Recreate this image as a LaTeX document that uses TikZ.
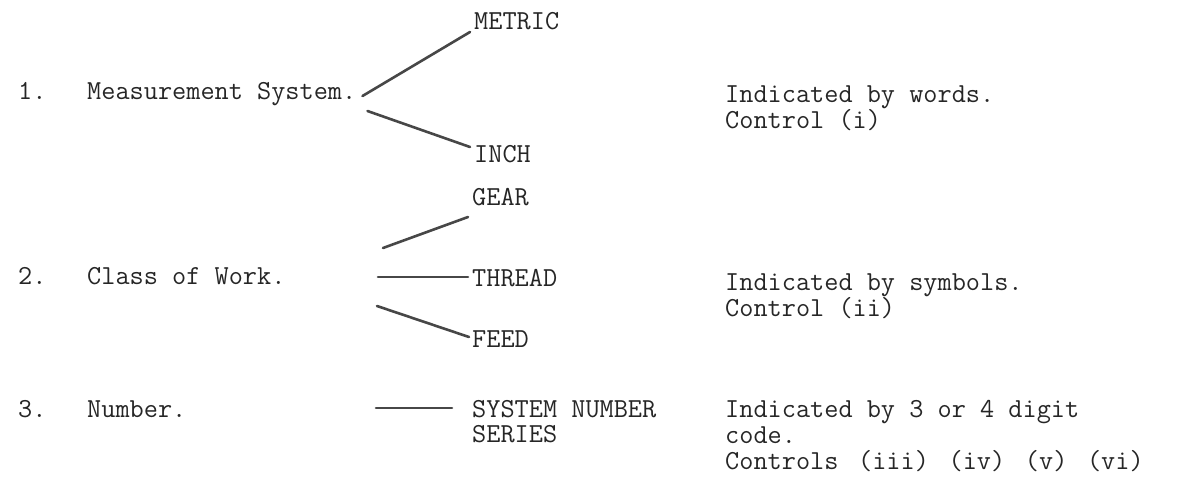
\documentclass[tikz,border=0pt]{standalone}
\usetikzlibrary{calc}
\begin{document}
\begin{tikzpicture}[x=1pt,y=-1pt,
  txt/.style={font=\ttfamily\fontsize{27.5}{26}\selectfont, inner sep=0pt, anchor=base west, text=black!85},
  branch/.style={draw=black!72, line width=2.6pt, line cap=round}]
\useasboundingbox (0,0) rectangle (1201,490);
% item 1
\node[txt] (n1) at (18,99) {1.};
\node[txt] (ms) at (87,99) {Measurement System.};
\node[txt] (metric) at (474,29) {METRIC};
\node[txt] (inch) at (474,162) {INCH};
\node[txt] (r1a) at (725,102) {Indicated by words.};
\node[txt] (r1b) at (725,128) {Control (i)};
% item 2
\node[txt] (n2) at (18,284) {2.};
\node[txt] (cw) at (87,284) {Class of Work.};
\node[txt] (gear) at (472,205) {GEAR};
\node[txt] (thread) at (472,286) {THREAD};
\node[txt] (feed) at (472,347) {FEED};
\node[txt] (r2a) at (725,290) {Indicated by symbols.};
\node[txt] (r2b) at (725,316) {Control (ii)};
% item 3
\node[txt] (n3) at (18,417) {3.};
\node[txt] (num) at (87,417) {Number.};
\node[txt] (sns1) at (472,417) {SYSTEM NUMBER};
\node[txt] (sns2) at (472,442) {SERIES};
\node[txt] (r3a) at (725,417) {Indicated by 3 or 4 digit};
\node[txt] (r3b) at (725,443) {code.};
\node[txt] (r3c) at (725,469) {Controls\hspace{0.2em} (iii)\hspace{0.2em} (iv)\hspace{0.2em} (v)\hspace{0.2em} (vi)};
% branch points (free ends)
\coordinate (a2) at (383,248);
\coordinate (b2) at (378,277);
\coordinate (c2) at (377,306);
\coordinate (a3) at (376,408);
\draw[branch] ([xshift=6pt,yshift=3pt]ms.base east) -- ([xshift=-4pt,yshift=-3pt]metric.base west);
\draw[branch] ([xshift=11pt,yshift=-12pt]ms.base east) -- ([xshift=-4pt,yshift=15pt]inch.base west);
\draw[branch] (a2) -- ([xshift=-4pt,yshift=-12pt]gear.base west);
\draw[branch] (b2) -- ([xshift=-4pt,yshift=9pt]thread.base west);
\draw[branch] (c2) -- ([xshift=-3pt,yshift=10pt]feed.base west);
\draw[branch] (a3) -- ([xshift=-20pt,yshift=9pt]sns1.base west);
\end{tikzpicture}
\end{document}
